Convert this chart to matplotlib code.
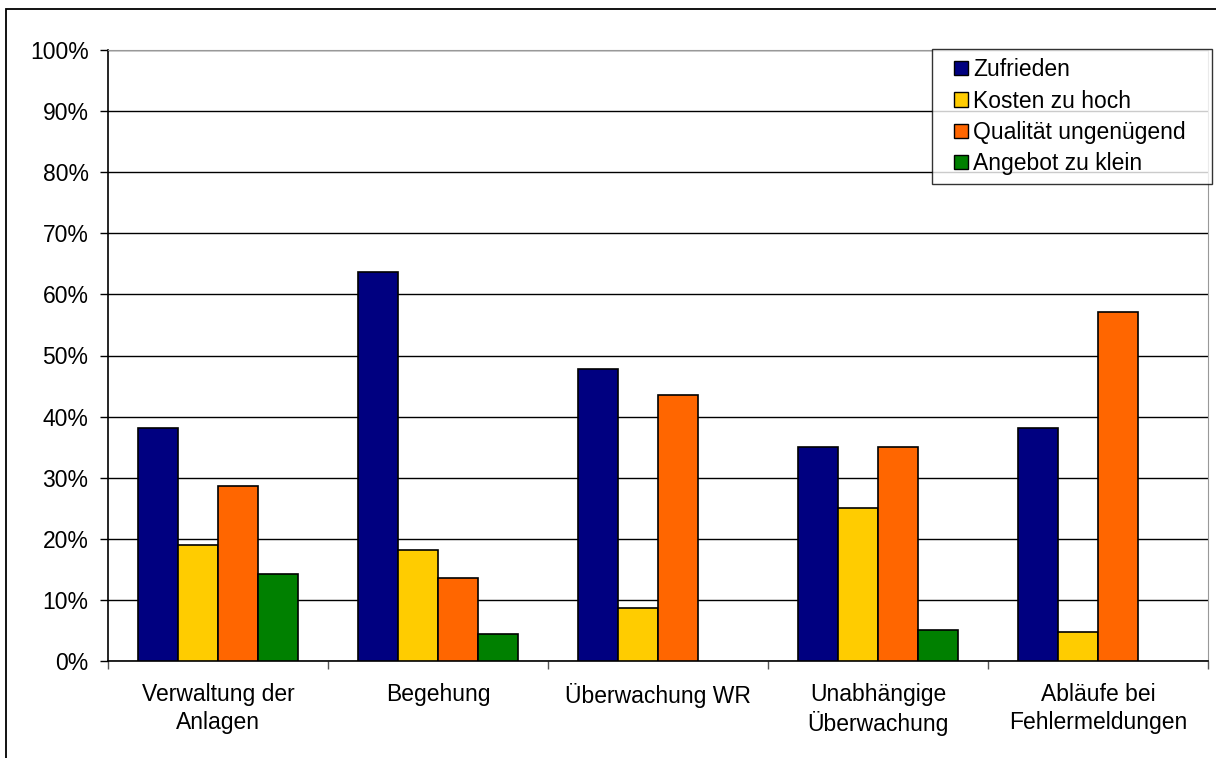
import matplotlib
matplotlib.use("Agg")
import matplotlib.pyplot as plt
import numpy as np
from matplotlib.patches import Rectangle, Patch
from matplotlib.legend_handler import HandlerPatch
from matplotlib.ticker import FixedLocator

plt.rcParams['font.family'] = ['Liberation Sans', 'DejaVu Sans']

categories = ["Verwaltung der\nAnlagen", "Begehung", "Überwachung WR",
              "Unabhängige\nÜberwachung", "Abläufe bei\nFehlermeldungen"]
series_names = ["Zufrieden", "Kosten zu hoch", "Qualität ungenügend", "Angebot zu klein"]
zufrieden = [38.1, 63.6, 47.8, 35.0, 38.1]
kosten = [19.0, 18.2, 8.7, 25.0, 4.8]
qualitaet = [28.6, 13.6, 43.5, 35.0, 57.1]
angebot = [14.3, 4.5, 0.0, 5.0, 0.0]
colors = ["#000080", "#FFCC00", "#FF6600", "#008000"]
y_ticks = [0, 10, 20, 30, 40, 50, 60, 70, 80, 90, 100]

FS = 16.5

fig = plt.figure(figsize=(12.16, 7.58), dpi=100)
fig.patch.set_facecolor("white")

# outer chart frame
fig.patches.append(Rectangle((6 / 1216, -0.05), 1.1, (758 - 9) / 758 + 0.05,
                             transform=fig.transFigure, fill=False,
                             edgecolor="black", linewidth=1.3))

ax = fig.add_axes([108 / 1216, 1 - 661 / 758, 1100 / 1216, 611 / 758])

x = np.arange(len(categories))
bar_w = 1 / 5.5
values = [zufrieden, kosten, qualitaet, angebot]
for i, (vals, c) in enumerate(zip(values, colors)):
    offs = (i - 1.5) * bar_w
    v = np.array(vals)
    mask = v > 0
    ax.bar(x[mask] + offs, v[mask], width=bar_w, color=c, edgecolor="black",
           linewidth=1.2, zorder=3)

ax.set_xlim(-0.5, len(categories) - 0.5)
ax.set_ylim(0, 100)
ax.yaxis.set_major_locator(FixedLocator(y_ticks))
ax.set_yticklabels([f"{t}%" for t in y_ticks], fontsize=FS)
ax.yaxis.grid(True, color="black", linewidth=1.0, zorder=0)

ax.xaxis.set_major_locator(FixedLocator(np.arange(len(categories) + 1) - 0.5))
ax.xaxis.set_minor_locator(FixedLocator(x))
ax.set_xticklabels([])
ax.set_xticklabels(categories, minor=True, fontsize=FS, linespacing=1.25)
ax.tick_params(axis="x", which="major", direction="out", length=6, width=1, color="#555555")
ax.tick_params(axis="x", which="minor", length=0, pad=16)
ax.tick_params(axis="y", direction="out", length=6, width=1, pad=8)

for s in ["left", "bottom"]:
    ax.spines[s].set_color("black")
    ax.spines[s].set_linewidth(1.2)
ax.spines["top"].set_color("#999999")
ax.spines["right"].set_color("#999999")
ax.set_axisbelow(True)


def square_key(legend, orig_handle, xdescent, ydescent, width, height, fontsize):
    s = 0.62 * fontsize
    return Rectangle((-xdescent + width - s, -ydescent + (height - s) / 2), s, s)


handles = [Patch(facecolor=c, edgecolor="black", linewidth=1.0) for c in colors]
leg = ax.legend(handles, series_names, loc="upper right", mode="expand",
                bbox_to_anchor=((932 - 108) / 1100, 0.5, 280 / 1100, 0.5015),
                fontsize=FS, frameon=True, fancybox=False,
                handlelength=1.18, handleheight=0.7,
                handletextpad=0.2, borderpad=0.4, labelspacing=0.36,
                borderaxespad=0,
                handler_map={Patch: HandlerPatch(patch_func=square_key)})
leg.get_frame().set_edgecolor("black")
leg.get_frame().set_linewidth(1.0)

fig.savefig("out.png", dpi=100, facecolor="white")
